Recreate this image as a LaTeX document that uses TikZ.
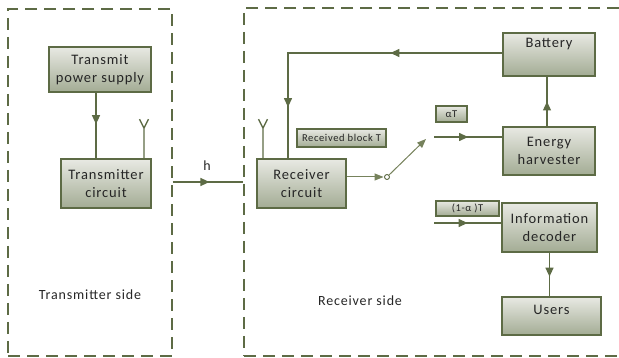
\documentclass[tikz,border=0pt]{standalone}
\usepackage{fontspec}
\setmainfont{Carlito}[LetterSpace=6]
\usetikzlibrary{arrows.meta,decorations.markings,calc}
\definecolor{oliveln}{HTML}{5D6B45}
\definecolor{olivelt}{HTML}{76825C}
\definecolor{boxtop}{HTML}{E8E9E3}
\definecolor{boxbot}{HTML}{A3AC94}
\definecolor{txtcol}{HTML}{262626}
\tikzset{
  box/.style={draw=oliveln, line width=1.6pt, top color=boxtop, bottom color=boxbot,
    inner sep=0pt, align=center, text=txtcol, font=\fontsize{14.5}{18}\selectfont},
  tagbox/.style={draw=oliveln, line width=1.2pt, top color=boxtop, bottom color=boxbot,
    inner sep=0pt, text=txtcol, font=\fontsize{10.5}{12}\selectfont},
  sidebox/.style={draw=oliveln, line width=1.3pt, dash pattern=on 12pt off 7pt, inner sep=0pt},
  sidelabel/.style={text=txtcol, font=\fontsize{14}{16}\selectfont},
  conn/.style={draw=oliveln, line width=1.3pt},
  thinconn/.style={draw=olivelt, line width=1pt},
  tri/.tip={Triangle[length=9pt,width=8pt]},
  midarrow/.style={postaction={decorate}, decoration={markings,
    mark=at position #1 with {\arrow{tri}}}},
  twoarrows/.style 2 args={postaction={decorate}, decoration={markings,
    mark=at position #1 with {\arrow{tri}},
    mark=at position #2 with {\arrow{tri}}}},
}
\begin{document}
\begin{tikzpicture}[x=1pt,y=-1pt]
\useasboundingbox (0,0) rectangle (619,358);
% side frames
\node[sidebox, minimum width=164pt, minimum height=347pt] (txside) at (90,182.5) {};
\node[sidebox, minimum width=460pt, minimum height=348pt] (rxside) at (474,182) {};
\node[sidelabel] (txlab) at (90,295) {Transmitter side};
\node[sidelabel] (rxlab) at (360,301) {Receiver side};

% blocks
\node[box, minimum width=102pt, minimum height=45pt] (tps) at (100,69.5) {Transmit\\power supply};
\node[box, minimum width=90pt, minimum height=49pt] (txc) at (106,183.5) {Transmitter\\circuit};
\node[box, minimum width=89pt, minimum height=49pt] (rxc) at (301.5,183.5) {Receiver\\circuit};
\node[box, minimum width=92pt, minimum height=43pt] (bat) at (549,54.5) {Battery\\\strut};
\node[box, minimum width=92pt, minimum height=48pt] (eh) at (549,151) {Energy\\harvester};
\node[box, minimum width=95pt, minimum height=49pt] (idec) at (549.5,227.5) {Information\\decoder};
\node[box, minimum width=99pt, minimum height=38pt] (users) at (551.5,316) {Users\\[-12pt]\strut};

% tags
\node[tagbox, minimum width=89pt, minimum height=18pt] (rbt) at (341.5,138) {Received block T};
\node[tagbox, minimum width=31pt, minimum height=16pt] (at) at (451.5,114) {αT};
\node[tagbox, minimum width=63pt, minimum height=15pt] (omat) at (467.5,208.5) {(1-α )T};

% helper coordinates
\coordinate (hy) at (0,182);
\node[circle, draw=oliveln, fill=white, line width=0.9pt, inner sep=0pt, minimum size=5pt] (sw) at (387,177) {};
\coordinate (swtip) at (426,139);
\coordinate (ein) at (434,137);
\coordinate (din) at (434,223);

% transmitter side
\draw[conn, midarrow=0.48] ([xshift=-4pt]tps.south) -- ([xshift=-4pt]tps.south |- txc.north);
\draw[conn] ([xshift=38pt]txc.north) -- ++(0,-30) coordinate (ta) -- ++(-4.5,-9) (ta) -- ++(4.5,-9);
\draw[conn, midarrow=0.52] (txside.east |- hy) -- (rxside.west |- hy);
\node[sidelabel] (hlab) at (207,166) {h};

% receiver side
\draw[conn] ([xshift=-38.5pt]rxc.north) -- ++(0,-30) coordinate (ra) -- ++(-4.5,-9) (ra) -- ++(4.5,-9);
\draw[conn, twoarrows={0.35}{0.84}] ([yshift=1.5pt]bat.west) -| ([xshift=-13.5pt]rxc.north);
\draw[thinconn, -{Triangle[length=9pt,width=7pt]}, shorten >=0.5pt] (rxc.east |- sw) -- (sw.west);
\draw[thinconn, -{Triangle[length=9pt,width=7pt]}] (sw.north east) -- (swtip);
\draw[conn, midarrow=0.5] (ein) -- (eh.west |- ein);
\draw[conn, midarrow=0.5] (din) -- (idec.west |- din);
\draw[conn, midarrow=0.5] ([xshift=-2pt]eh.north) -- ([xshift=-2pt]bat.south);
\draw[conn, midarrow=0.55] (idec.south) -- (idec.south |- users.north);
\end{tikzpicture}
\end{document}
